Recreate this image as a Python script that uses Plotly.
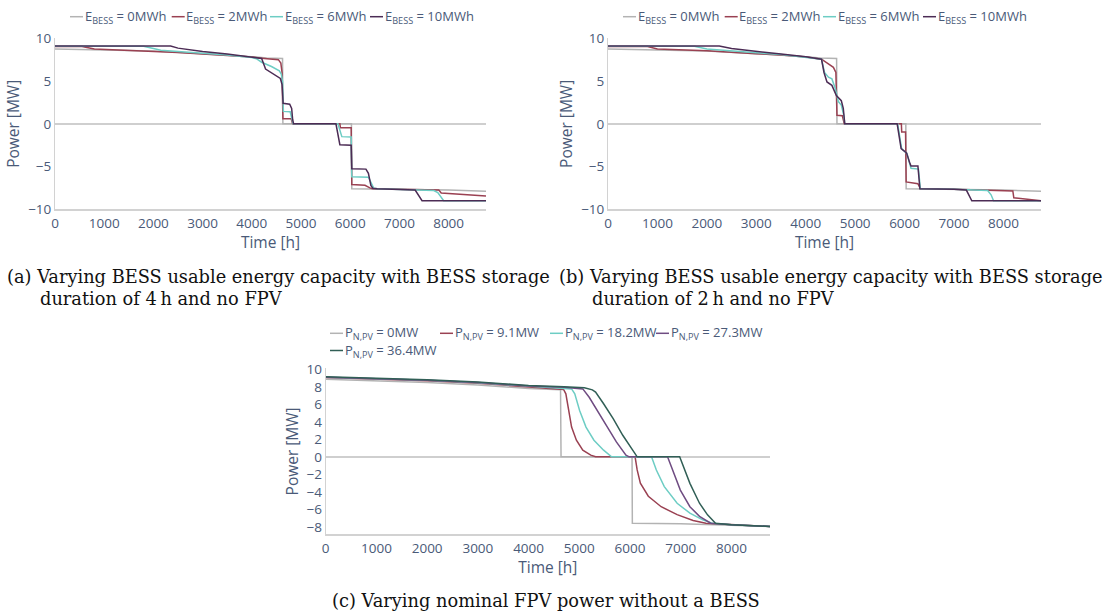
import plotly.graph_objects as go

W, H = 1112, 615

# ---------------------------------------------------------------- data --
# Hours of the year (sorted duration curve) and exchanged power in MW.

# Reference case without BESS / without FPV (identical in panels a and b)
base_h = [0, 1000, 2000, 3000, 3500, 4000, 4300, 4625, 4632, 6025, 6032, 7000, 8000, 8760]
base_p = [8.75, 8.65, 8.5, 8.2, 8.05, 7.85, 7.7, 7.65, 0.0, 0.0, -7.6, -7.65, -7.75, -7.9]

# (a) storage duration 4 h
a2_h = [0, 550, 800, 1500, 2500, 3000, 3500, 4000, 4200, 4540, 4590, 4615, 4632, 4800, 4830,
        5790, 5800, 6020, 6032, 6300, 6400, 6450, 7000, 7800, 7850, 8760]
a2_p = [9.05, 9.05, 8.75, 8.6, 8.35, 8.15, 8.0, 7.8, 7.68, 7.5, 7.1, 6.0, 0.6, 0.6, 0.0,
        0.0, -0.45, -0.45, -7.1, -7.2, -7.5, -7.6, -7.65, -7.75, -8.1, -8.45]
a6_h = [0, 1800, 2000, 2150, 2500, 3000, 3500, 4000, 4100, 4200, 4400, 4560, 4600, 4625, 4642,
        4780, 4810, 4840, 5750, 5830, 6020, 6032, 6370, 6420, 6480, 6550, 7000, 7700, 7780,
        7840, 7900, 8760]
a6_p = [9.08, 9.08, 8.8, 8.6, 8.45, 8.25, 8.05, 7.75, 7.6, 7.2, 6.7, 6.2, 5.8, 5.0, 1.45,
        1.4, 0.8, 0.0, 0.0, -1.5, -1.55, -6.2, -6.25, -6.9, -7.55, -7.6, -7.65, -7.8, -8.05,
        -8.5, -9.0, -9.0]
a10_h = [0, 2350, 2500, 3000, 3500, 4000, 4200, 4280, 4580, 4615, 4637, 4770, 4810, 4830, 4850,
         5710, 5790, 6020, 6032, 6320, 6370, 6420, 6460, 6550, 7000, 7320, 7460, 8760]
a10_p = [9.1, 9.1, 8.85, 8.45, 8.15, 7.85, 7.65, 6.4, 5.3, 4.6, 2.4, 2.3, 1.8, 0.5, 0.0,
         0.0, -2.45, -2.5, -5.25, -5.3, -5.8, -7.2, -7.55, -7.6, -7.65, -7.75, -9.0, -9.0]

# (b) storage duration 2 h
b2_h = [0, 800, 1000, 2000, 3000, 3500, 4000, 4320, 4560, 4610, 4632, 4740, 4780, 5935, 5942,
        6020, 6032, 6270, 6320, 7000, 8190, 8210, 8760]
b2_p = [9.05, 9.05, 8.75, 8.55, 8.2, 8.05, 7.8, 7.55, 6.6, 6.0, 1.0, 0.95, 0.0, 0.0, -0.95,
        -0.95, -6.8, -7.0, -7.6, -7.65, -7.85, -8.65, -9.0]
b6_h = [0, 1750, 2000, 2500, 3000, 3500, 4000, 4320, 4380, 4460, 4530, 4600, 4660, 4720, 4770,
        4790, 5860, 5940, 6050, 6110, 6130, 6280, 6320, 7000, 7680, 7750, 7800, 8760]
b6_p = [9.08, 9.08, 8.75, 8.5, 8.3, 8.1, 7.8, 7.55, 6.0, 5.45, 5.25, 4.1, 2.6, 2.2, 1.0,
        0.0, 0.0, -2.9, -3.5, -4.9, -5.2, -5.3, -7.6, -7.65, -7.8, -8.3, -9.0, -9.0]
b10_h = [0, 2250, 2500, 3000, 3500, 4000, 4320, 4370, 4430, 4530, 4620, 4720, 4760, 4790, 5850,
         5930, 6040, 6100, 6130, 6270, 6310, 7000, 7250, 7360, 8760]
b10_p = [9.1, 9.1, 8.8, 8.45, 8.15, 7.85, 7.55, 6.0, 4.9, 4.5, 3.3, 2.7, 1.8, 0.0, 0.0,
         -2.9, -3.4, -4.5, -4.95, -4.95, -7.6, -7.65, -7.75, -9.0, -9.0]

# (c) nominal FPV power, no BESS
c0_h = [0, 1000, 2000, 3000, 4000, 4630, 4640, 6040, 6046, 7000, 8000, 8760]
c0_p = [8.85, 8.7, 8.5, 8.2, 7.8, 7.65, 0.0, 0.0, -7.6, -7.65, -7.8, -7.95]
c9_h = [0, 1000, 2000, 3000, 4000, 4690, 4735, 4785, 4848, 4943, 5069, 5226, 5321, 6100, 6141,
        6204, 6361, 6614, 6929, 7244, 7496, 7700, 8000, 8760]
c9_p = [9.05, 8.9, 8.7, 8.4, 7.95, 7.7, 7.2, 5.3, 3.4, 1.9, 0.76, 0.19, 0.0, 0.0, -1.5,
        -3.0, -4.5, -5.7, -6.6, -7.27, -7.58, -7.65, -7.75, -7.95]
c18_h = [0, 1000, 2000, 3000, 4000, 4600, 4848, 4911, 5006, 5132, 5289, 5479, 5636, 6424, 6519,
         6676, 6929, 7181, 7433, 7622, 8000, 8760]
c18_p = [9.1, 8.95, 8.75, 8.45, 8.05, 7.85, 7.76, 7.2, 5.3, 3.4, 1.9, 0.76, 0.0, 0.0, -1.5,
         -3.4, -5.3, -6.44, -7.2, -7.58, -7.75, -7.95]
c27_h = [0, 1000, 2000, 3000, 4000, 4700, 5069, 5195, 5352, 5542, 5731, 5920, 5983, 6740, 6834,
         6992, 7181, 7370, 7591, 8000, 8760]
c27_p = [9.1, 8.95, 8.75, 8.5, 8.1, 7.95, 7.76, 6.8, 5.3, 3.4, 1.7, 0.2, 0.0, 0.0, -1.5,
         -3.8, -5.7, -6.8, -7.58, -7.75, -7.95]
c36_h = [0, 1000, 2000, 3000, 4000, 4700, 5100, 5258, 5321, 5479, 5668, 5857, 6046, 6141, 6979,
         7054, 7181, 7370, 7528, 7685, 8000, 8760]
c36_p = [9.15, 9.0, 8.8, 8.55, 8.15, 8.0, 7.9, 7.65, 7.4, 6.06, 4.36, 2.46, 0.76, 0.0, 0.0,
         -1.14, -3.03, -5.3, -6.63, -7.58, -7.75, -7.95]

bess_names = ["E<sub>BESS</sub> = 0MWh", "E<sub>BESS</sub> = 2MWh",
              "E<sub>BESS</sub> = 6MWh", "E<sub>BESS</sub> = 10MWh"]
pv_names = ["P<sub>N,PV</sub> = 0MW", "P<sub>N,PV</sub> = 9.1MW", "P<sub>N,PV</sub> = 18.2MW",
            "P<sub>N,PV</sub> = 27.3MW", "P<sub>N,PV</sub> = 36.4MW"]

captions = [
    ("(a) Varying BESS usable energy capacity with BESS storage", "duration of 4\u2009h and no FPV"),
    ("(b) Varying BESS usable energy capacity with BESS storage", "duration of 2\u2009h and no FPV"),
    ("(c) Varying nominal FPV power without a BESS", None),
]

# ---------------------------------------------------------------- style --
GRAY, MAROON, TEAL = "#b3b3b3", "#9a4152", "#6dcdc4"
PLUM, PURPLE, GREEN = "#4c2c55", "#6f4c82", "#315f56"
bess_colors = [GRAY, MAROON, TEAL, PLUM]
pv_colors = [GRAY, MAROON, TEAL, PURPLE, GREEN]
TXT = "#4a5a78"
SANS = "Open Sans"
SERIF = "DejaVu Serif"


def fx(px):
    return px / W


def fy(py):
    return 1 - py / H


fig = go.Figure()

panels = [
    ("x", "y", [(base_h, base_p), (a2_h, a2_p), (a6_h, a6_p), (a10_h, a10_p)], bess_colors),
    ("x2", "y2", [(base_h, base_p), (b2_h, b2_p), (b6_h, b6_p), (b10_h, b10_p)], bess_colors),
    ("x3", "y3", [(c0_h, c0_p), (c9_h, c9_p), (c18_h, c18_p), (c27_h, c27_p), (c36_h, c36_p)],
     pv_colors),
]
names_for = [bess_names, bess_names, pv_names]
for (xa, ya, series, cols), names in zip(panels, names_for):
    for (h, p), col, nm in zip(series, cols, names):
        fig.add_trace(go.Scatter(x=h, y=p, mode="lines", name=nm, xaxis=xa, yaxis=ya,
                                 line=dict(color=col, width=1.5), showlegend=False))

# plot areas in pixels: (left, right, top, bottom)
boxes = [(55, 486, 38.3, 209.3), (608, 1041, 38.3, 209.3), (325.7, 770, 368.4, 534.3)]
yranges = [[-10, 10], [-10, 10], [-8.85, 10.1]]
ydticks = [5, 5, 2]

axis_common = dict(showgrid=False, showline=True, linecolor="#d2d2d2", ticks="",
                   tickfont=dict(family=SANS, size=13.5, color=TXT), automargin=False)
for i, ((l, r, t, b), yr, dt) in enumerate(zip(boxes, yranges, ydticks)):
    sfx = "" if i == 0 else str(i + 1)
    fig.layout["xaxis" + sfx] = dict(
        axis_common, domain=[fx(l), fx(r)], range=[0, 8760], anchor="y" + sfx,
        zeroline=False, linewidth=2, dtick=1000, tick0=0,
        title=dict(text="Time [h]", font=dict(family=SANS, size=15.5, color=TXT), standoff=1))
    fig.layout["yaxis" + sfx] = dict(
        axis_common, domain=[fy(b), fy(t)], range=yr, anchor="x" + sfx, dtick=dt, tick0=0,
        zeroline=True, zerolinecolor="#cfcfcf", zerolinewidth=2, linewidth=1,
        title=dict(text="Power [MW]", font=dict(family=SANS, size=15.5, color=TXT), standoff=4))


# legends drawn above each panel
def legend_entry(x_px, y_px, color, text):
    fig.add_shape(type="line", xref="paper", yref="paper", x0=fx(x_px), x1=fx(x_px + 13),
                  y0=fy(y_px), y1=fy(y_px), line=dict(color=color, width=1.5))
    fig.add_annotation(x=fx(x_px + 13.5), y=fy(y_px), xref="paper", yref="paper",
                       xanchor="left", yanchor="middle", showarrow=False, text=text,
                       font=dict(family=SANS, size=13, color=TXT), borderpad=0)


bess_leg_x = [70, 171.7, 270, 370]
for off in (0, 553):
    for xp, col, nm in zip(bess_leg_x, bess_colors, bess_names):
        legend_entry(xp + off, 16.7, col, nm)

pv_leg_pos = [(330, 333.3), (440, 333.3), (550, 333.3), (656, 333.3), (330, 350.5)]
for (xp, yp), col, nm in zip(pv_leg_pos, pv_colors, pv_names):
    legend_entry(xp, yp, col, nm)

# sub-figure captions
cap_font = dict(family=SERIF, size=17.8, color="#111111")
cap_x = [5, 557]
for (line1, line2), x0 in zip(captions[:2], cap_x):
    fig.add_annotation(x=fx(x0), y=fy(276.5), xref="paper", yref="paper", xanchor="left",
                       yanchor="middle", showarrow=False, text=line1, font=cap_font)
    fig.add_annotation(x=fx(x0 + 33), y=fy(298), xref="paper", yref="paper", xanchor="left",
                       yanchor="middle", showarrow=False, text=line2, font=cap_font)
fig.add_annotation(x=fx(546), y=fy(600), xref="paper", yref="paper", xanchor="center",
                   yanchor="middle", showarrow=False, text=captions[2][0], font=cap_font)

fig.update_layout(width=W, height=H, margin=dict(l=0, r=0, t=0, b=0), template="none",
                  paper_bgcolor="white", plot_bgcolor="white", showlegend=False,
                  font=dict(family=SANS, color=TXT))

fig.write_html("out.html")
